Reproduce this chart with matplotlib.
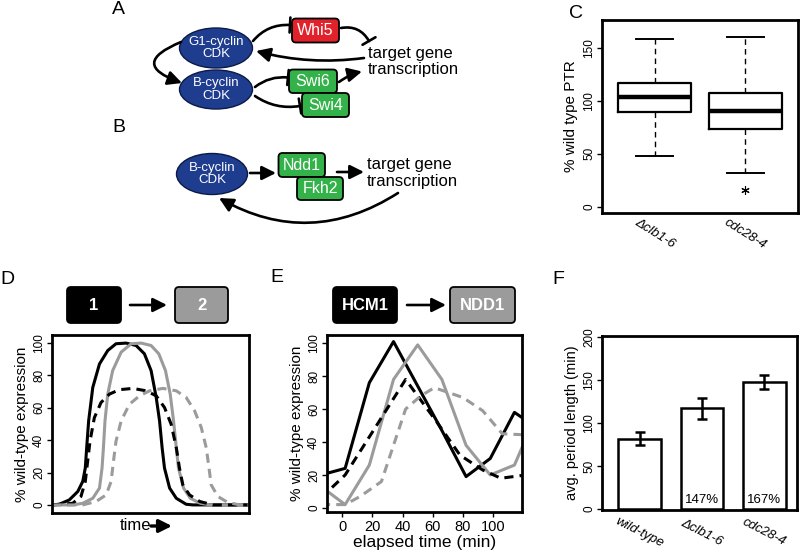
import matplotlib
matplotlib.use("Agg")
import matplotlib.pyplot as plt
from matplotlib.patches import Ellipse, FancyBboxPatch, FancyArrowPatch, ArrowStyle

plt.rcParams["font.family"] = ["Liberation Sans", "DejaVu Sans"]

W, H = 800, 557

# =========================
# Data
# =========================

# (C) boxplot of % wild type PTR
ptr_labels = ["Δclb1-6", "cdc28-4"]
ptr_whislo = [48, 32]
ptr_q1 = [89, 73]
ptr_med = [103, 90]
ptr_q3 = [117, 107]
ptr_whishi = [158, 160]
ptr_fliers = [[], [16]]

# (D) model curves, arbitrary time units
g1_wt_t = [0, 3.7, 8.8, 13.1, 15.6, 16.9, 17.6, 18.6, 20.7, 24.1, 28.3, 32.5, 37.6,
           42.7, 46.9, 50.3, 52.9, 54.6, 55.9, 57.1, 59.7, 63.1, 68.1, 71.5, 100]
g1_wt_y = [0, 0.4, 3.1, 8.3, 14.5, 22.8, 35.3, 51.9, 72.6, 87.1, 95.4, 99.6, 100,
           98.5, 93.4, 83.0, 66.4, 51.9, 35.3, 22.8, 10.4, 4.1, 0.4, 0, 0]
g2_wt_t = [0, 10.5, 15.6, 20.7, 24.1, 25.4, 26.1, 26.9, 28.3, 30.8, 35.1, 40.2, 45.3,
           50.3, 54.2, 57.6, 60.0, 61.7, 63.1, 64.2, 66.8, 70.2, 75.3, 80.3, 100]
g2_wt_y = [0, 0, 1.0, 4.1, 10.4, 22.8, 35.3, 51.9, 68.5, 83.0, 94.4, 99.6, 100,
           98.5, 93.4, 83.0, 68.5, 51.9, 35.3, 22.8, 10.4, 4.1, 1.0, 0, 0]
g1_mut_t = [0, 10.5, 14.7, 16.9, 18.1, 19.3, 21.5, 24.9, 29.2, 34.2, 41.0, 47.8,
            52.9, 57.1, 60.5, 63.1, 64.7, 66.4, 69.8, 75.0, 81.7, 100]
g1_mut_y = [0, 1.0, 5.2, 14.5, 27.0, 39.4, 53.9, 63.3, 68.5, 71.2, 72.0, 70.5,
            67.4, 60.2, 49.8, 35.3, 22.8, 12.4, 6.2, 2.1, 0, 0]
g2_mut_t = [0, 15.6, 22.4, 27.5, 30.0, 31.2, 32.5, 35.1, 39.3, 44.4, 49.5, 56.3,
            63.1, 68.1, 72.4, 75.8, 78.3, 79.7, 80.8, 84.2, 89.3, 95.3, 100]
g2_mut_y = [0, 0, 2.1, 6.2, 14.5, 27.0, 39.4, 51.9, 62.2, 67.4, 70.5, 72.0,
            70.5, 66.4, 58.1, 47.7, 35.3, 22.8, 12.4, 5.2, 1.5, 0, 0]

# (E) HCM1 / NDD1 expression, elapsed time (min)
wt_time = [-14, 2, 18, 34, 50, 66, 82, 98, 114, 130]
hcm1_wt = [20, 24, 76, 101, 74, 47, 19, 30, 58, 48]
ndd1_wt = [13, 2, 26, 78, 99, 78, 38, 20, 26, 60]
hcm1_mut_time = [-14, 2, 20, 42, 62, 78, 93, 105, 130]
hcm1_mut = [6, 20, 46, 78, 53, 32, 23, 18, 21]
ndd1_mut_time = [-14, 2, 12, 26, 42, 52, 61, 80, 93, 106, 130]
ndd1_mut = [2, 2, 7, 16, 60, 68, 73, 67, 59, 45, 44]

# (F) average period length
strains = ["wild-type", "Δclb1-6", "cdc28-4"]
period_mean = [82, 117, 148]
period_err = [7, 12, 8]
period_pct = ["", "147%", "167%"]

GRAY = "#9b9b9b"
BLUE = "#1f3d8f"
RED = "#e1222a"
GREEN = "#34b24a"


def px_axes(fig, left, top, right, bottom):
    return fig.add_axes([left / W, 1 - bottom / H, (right - left) / W, (bottom - top) / H])


def style_axes(ax):
    for sp in ax.spines.values():
        sp.set_linewidth(2)
    ax.tick_params(direction="out", length=3.5, width=1, labelsize=8.5, pad=1.5)
    plt.setp(ax.get_yticklabels(), rotation=90, va="center")


fig = plt.figure(figsize=(W / 100, H / 100), dpi=100)

# =========================
# (C) boxplot
# =========================
axC = px_axes(fig, 602, 20, 798, 213)
stats = []
for i in range(len(ptr_labels)):
    stats.append(dict(med=ptr_med[i], q1=ptr_q1[i], q3=ptr_q3[i],
                      whislo=ptr_whislo[i], whishi=ptr_whishi[i], fliers=ptr_fliers[i]))
axC.bxp(stats, positions=[1, 2], widths=0.8, capwidths=0.4, showfliers=True,
        boxprops=dict(lw=1.6, color="k"),
        medianprops=dict(color="k", lw=3.2),
        whiskerprops=dict(ls=(0, (4, 3)), lw=1, color="k"),
        capprops=dict(lw=1.4, color="k"),
        flierprops=dict(marker=(6, 2, 0), ms=6, mec="k", mew=0.8))
axC.set_xlim(0.42, 2.58)
axC.set_ylim(-6, 176)
axC.set_yticks([0, 50, 100, 150])
axC.set_ylabel("% wild type PTR", fontsize=11, labelpad=4)
style_axes(axC)
axC.set_xticks([1, 2], ptr_labels, rotation=-32, ha="center", va="center",
               rotation_mode="anchor", fontstyle="italic", fontsize=9.5)
axC.tick_params(axis="x", length=0, pad=15)

# =========================
# (D) model curves
# =========================
axD = px_axes(fig, 52, 335, 249, 513)
axD.plot(g1_wt_t, g1_wt_y, color="k", lw=2.2)
axD.plot(g2_wt_t, g2_wt_y, color=GRAY, lw=2.2)
axD.plot(g1_mut_t, g1_mut_y, color="k", lw=2.2, ls=(0, (3, 2)))
axD.plot(g2_mut_t, g2_mut_y, color=GRAY, lw=2.2, ls=(0, (3, 2)))
axD.set_xlim(0, 100)
axD.set_ylim(-5, 105)
axD.set_xticks([])
axD.set_yticks([0, 20, 40, 60, 80, 100])
axD.set_ylabel("% wild-type expression", fontsize=11, labelpad=3)
style_axes(axD)

# =========================
# (E) HCM1 -> NDD1
# =========================
axE = px_axes(fig, 327, 335, 522, 512)
axE.plot(wt_time, hcm1_wt, color="k", lw=2.2)
axE.plot(wt_time, ndd1_wt, color=GRAY, lw=2.2)
axE.plot(hcm1_mut_time, hcm1_mut, color="k", lw=2.2, ls=(0, (3, 2)))
axE.plot(ndd1_mut_time, ndd1_mut, color=GRAY, lw=2.2, ls=(0, (3, 2)))
axE.set_xlim(-10, 119)
axE.set_ylim(-2.5, 105)
axE.set_xticks([0, 20, 40, 60, 80, 100])
axE.set_yticks([0, 20, 40, 60, 80, 100])
axE.set_ylabel("% wild-type expression", fontsize=11, labelpad=3)
axE.set_xlabel("elapsed time (min)", fontsize=12.5, labelpad=1)
style_axes(axE)
axE.tick_params(axis="x", labelsize=10.5, pad=2)

# =========================
# (F) period length bars
# =========================
axF = px_axes(fig, 602, 336, 797, 510)
xpos = list(range(len(strains)))
axF.bar(xpos, period_mean, width=0.69, color="white", edgecolor="k", lw=1.8)
axF.errorbar(xpos, period_mean, yerr=period_err, fmt="none", ecolor="k",
             elinewidth=1.8, capsize=3.5, capthick=1.8)
for xi, lab in zip(xpos, period_pct):
    axF.text(xi, 4, lab, ha="center", va="bottom", fontsize=9.5)
axF.set_xlim(-0.61, 2.53)
axF.set_ylim(-1, 201)
axF.set_yticks([0, 50, 100, 150, 200])
axF.set_ylabel("avg. period length (min)", fontsize=10.5, labelpad=3)
style_axes(axF)
axF.set_xticks(xpos, strains, rotation=-27, ha="center", va="center",
               rotation_mode="anchor", fontstyle="italic", fontsize=9.5)
axF.tick_params(axis="x", length=0, pad=16)

# =========================
# Diagrams and annotations (pixel overlay)
# =========================
ov = fig.add_axes([0, 0, 1, 1], zorder=10)
ov.set_xlim(0, W)
ov.set_ylim(H, 0)
ov.axis("off")
ov.patch.set_visible(False)

for letter, x, y in [("A", 112, 9), ("B", 112, 128), ("C", 569, 14),
                     ("D", 0, 279), ("E", 270, 278), ("F", 552, 280)]:
    ov.text(x, y, letter, fontsize=14, ha="left", va="center")


def ellipse(cx, cy, w, h, label):
    ov.add_patch(Ellipse((cx, cy), w, h, fc=BLUE, ec="#0b1a45", lw=1))
    ov.text(cx, cy, label, color="white", fontsize=9.5, ha="center", va="center",
            linespacing=1.1)


def rbox(x0, y0, x1, y1, fc, label, size=11.5, bold=False):
    ov.add_patch(FancyBboxPatch((x0, y0), x1 - x0, y1 - y0,
                                boxstyle="round,pad=0,rounding_size=4",
                                fc=fc, ec="k", lw=1.3))
    ov.text((x0 + x1) / 2, (y0 + y1) / 2, label, color="white", fontsize=size,
            ha="center", va="center", fontweight="bold" if bold else "normal")


arrow_head = ArrowStyle("-|>", head_length=0.7, head_width=0.35)
t_bar = ArrowStyle("-[", widthB=0.45, lengthB=0)


def link(p0, p1, rad=0.0, style=arrow_head):
    ov.add_patch(FancyArrowPatch(p0, p1, arrowstyle=style, mutation_scale=12,
                                 connectionstyle=f"arc3,rad={rad}", lw=1.9,
                                 color="k", shrinkA=0, shrinkB=0))


# panel A
ellipse(216, 48, 73, 40, "G1-cyclin\nCDK")
ellipse(216, 89.5, 73, 39, "B-cyclin\nCDK")
rbox(292, 18.5, 339, 42.5, RED, "Whi5")
rbox(289, 69.5, 337, 93, GREEN, "Swi6")
rbox(302, 93, 349, 117, GREEN, "Swi4")
ov.text(368, 61.5, "target gene\ntranscription", fontsize=12, ha="left", va="center",
        linespacing=1.15)
link((253, 41), (290, 25), rad=-0.25, style=t_bar)
link((341, 28), (369, 41), rad=-0.35, style=t_bar)
link((364, 58), (256, 51), rad=-0.1)
link((181, 42), (182, 83), rad=1.3)
link((255, 87), (288, 77.5), rad=-0.2, style=t_bar)
link((255, 96), (300, 106), rad=0.2, style=t_bar)
link((339, 82), (362, 71.5), rad=-0.1)

# panel B
ellipse(212, 174, 71, 41, "B-cyclin\nCDK")
rbox(278.5, 153, 325, 177, GREEN, "Ndd1")
rbox(297, 177, 343, 200, GREEN, "Fkh2")
ov.text(367, 173, "target gene\ntranscription", fontsize=12, ha="left", va="center",
        linespacing=1.15)
link((250, 173), (276, 173))
link((337, 172), (364, 172))
link((398, 193), (219, 198), rad=-0.3)

# panel D / E headers
rbox(67, 287, 121, 323, "k", "1", size=12, bold=True)
rbox(175, 287, 228, 323, GRAY, "2", size=12, bold=True)
link((130, 305), (167, 305))
rbox(333, 287, 397, 323, "k", "HCM1", size=12, bold=True)
rbox(450, 287, 515, 323, GRAY, "NDD1", size=12, bold=True)
link((407, 305), (446, 305))

# time arrow under panel D
ov.text(135, 525, "time", fontsize=12, ha="center", va="center")
ov.add_patch(FancyArrowPatch((151, 526), (172, 526), arrowstyle=arrow_head,
                             mutation_scale=11, lw=2.4, color="k",
                             shrinkA=0, shrinkB=0))

fig.savefig("out.png", dpi=100)
